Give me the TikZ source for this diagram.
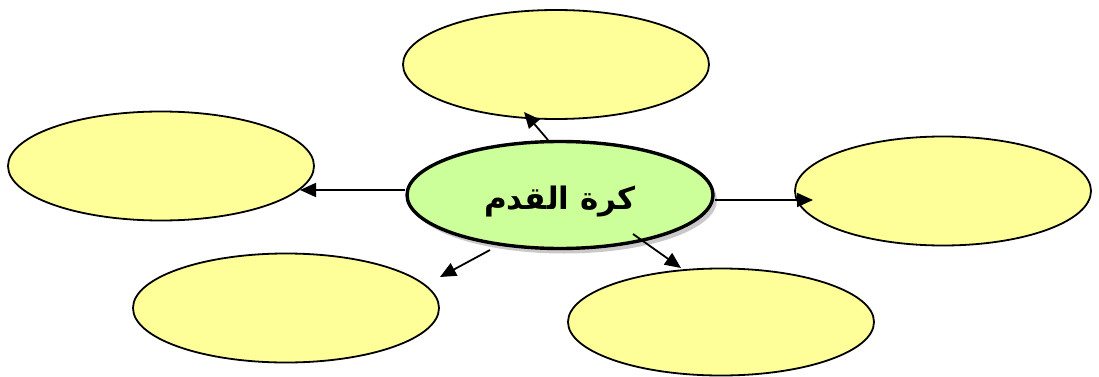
\documentclass[tikz,border=0pt]{standalone}
\usepackage{fontspec}
\newfontfamily\arabicfont[Script=Arabic]{DejaVu Sans}
\TeXXeTstate=1
\usetikzlibrary{arrows.meta,shadows,shapes.geometric}
\begin{document}
\begin{tikzpicture}[x=1pt,y=-1pt,
  leaf/.style={draw=black,line width=1.8pt,fill={rgb,255:red,255;green,255;blue,153},ellipse,minimum width=#1,minimum height=109pt,inner sep=0pt},
  hub/.style={draw=black,line width=3.4pt,fill={rgb,255:red,204;green,255;blue,153},ellipse,minimum width=306pt,minimum height=107pt,inner sep=0pt,
    drop shadow={shadow xshift=4pt,shadow yshift=-5pt,fill=gray!60,opacity=0.7}},
  link/.style={line width=1.8pt,-{Triangle[length=16pt,width=14pt]}}]
\useasboundingbox (0,0) rectangle (1099,377);
\node[leaf=306pt] (top) at (556,64.5) {};
\node[leaf=306pt] (left) at (161,166) {};
\node[leaf=296pt] (right) at (943,191) {};
\node[leaf=306pt] (bl) at (286,308) {};
\node[leaf=306pt,minimum height=107pt] (br) at (721,322) {};
\node[hub,text depth=0pt] (hub) at (560,195) {\raisebox{-5pt}{\arabicfont\bfseries\fontsize{31}{34}\selectfont\beginR كرة القدم\endR}};
\coordinate (hl) at (405,190);
\coordinate (ht) at (548,140);
\coordinate (hr) at (715,200);
\coordinate (hbl) at (490,250);
\coordinate (hbr) at (633,234);
\coordinate (tl) at (300,190);
\coordinate (tt) at (524,112);
\coordinate (tr) at (813,200);
\coordinate (tbl) at (440,277);
\coordinate (tbr) at (681,268);
\draw[link] (hl) -- (tl);
\draw[link] (ht) -- (tt);
\draw[link] (hr) -- (tr);
\draw[link] (hbl) -- (tbl);
\draw[link] (hbr) -- (tbr);
\end{tikzpicture}
\end{document}
